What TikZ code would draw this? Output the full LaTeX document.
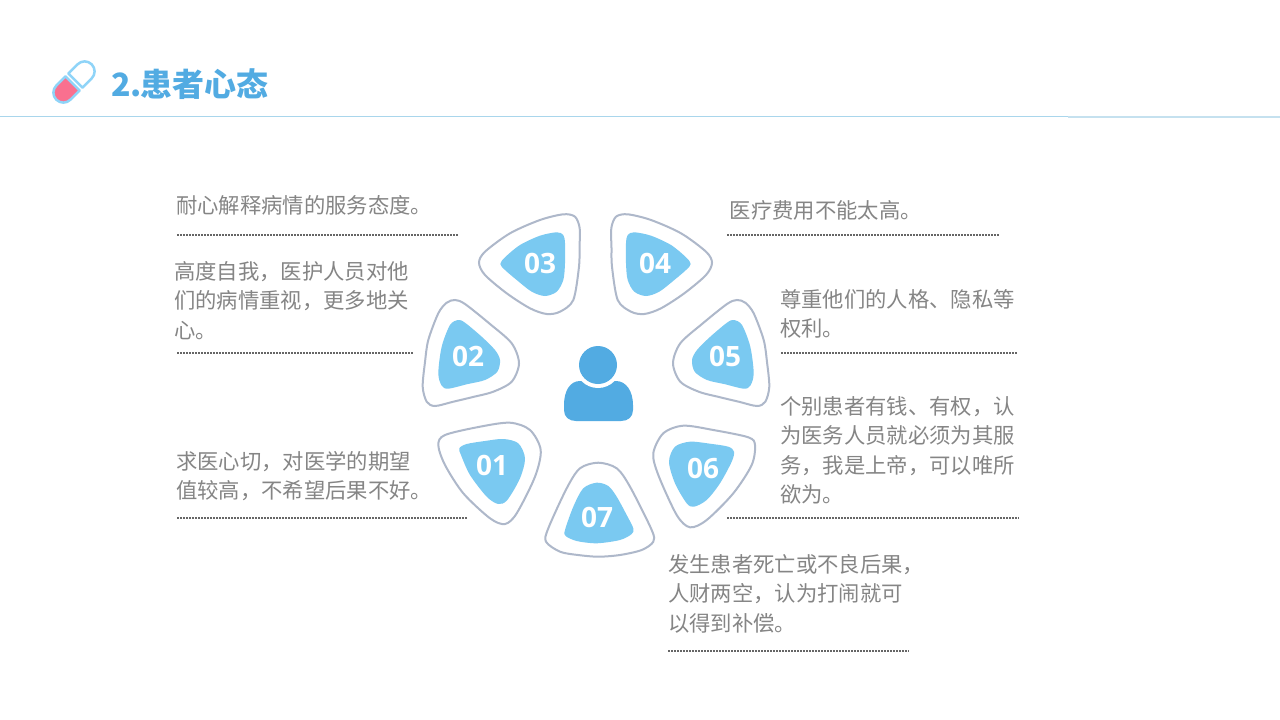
\documentclass[tikz,border=0pt]{standalone}
\usepackage{fontspec}
\setmainfont{Liberation Sans}
\newfontfamily\cjk{Noto Sans CJK SC}
\newfontfamily\numfont{Open Sans}
\usepackage{tikz}
\definecolor{petalblue}{HTML}{7AC9F1}
\definecolor{petalline}{HTML}{AEB8CA}
\definecolor{personblue}{HTML}{52ABE2}
\definecolor{bodytext}{HTML}{858585}
\definecolor{titleline}{HTML}{A9D6EC}
\definecolor{titlelinelight}{HTML}{C5E1EF}
\definecolor{pillblue}{HTML}{8FD4F8}
\definecolor{pillpink}{HTML}{F9708F}
\tikzset{
	bodylabel/.style={anchor=north west, align=left, inner sep=0pt, text=bodytext,
		font=\fontsize{21.33}{29.5}\selectfont\cjk},
	numlabel/.style={inner sep=0pt, text=white, font=\fontsize{28}{28}\selectfont\numfont\bfseries},
	dotrule/.style={line width=1.5pt, draw=black!60, dash pattern=on 1.5pt off 1.5pt},
	petalouter/.style={draw=petalline, line width=2pt, fill=white},
	petalinner/.style={fill=petalblue}
}
% contours used twice (03 and 04, 02 and 05)
\newcommand{\petalthreeouter}{plot[smooth cycle] coordinates {(563.3,214.3) (575,216.7) (579.7,228.3) (579.5,248) (579,266.7) (573.3,300) (560,311.7) (546.7,314) (530,308.3) (506.7,293.3) (485,275) (479,262.7) (485,251.7) (510,233.3) (540,220)}}
\newcommand{\petalthreeinner}{plot[smooth cycle] coordinates {(556.7,232.3) (563.3,235) (565,243.3) (565,263.3) (563.3,280) (556.7,291.7) (545,296) (531.7,291.7) (516.7,280) (505,270) (500.3,264) (505,257.3) (520,245) (540,235.7)}}
\newcommand{\petaltwoouter}{plot[smooth cycle] coordinates {(455,300) (465,304) (490,324) (511.7,343.3) (519,363.3) (511.7,381.7) (493.3,391.7) (473,397) (453.3,401.7) (435,406) (426.7,401.7) (422.7,386.7) (425,362) (428.3,340) (438.3,313.3) (446.7,302.7)}}
\newcommand{\petaltwoinner}{plot[smooth cycle] coordinates {(458.3,320) (465,322.7) (481.7,336.7) (495,350) (500,360) (497.3,371.7) (485,380) (466.7,384.3) (448.3,388.7) (441.7,385.7) (438.3,373.3) (441.7,346.7) (450,325)}}
\begin{document}
\begin{tikzpicture}[x=1pt,y=-1pt]

	\useasboundingbox (0,0) rectangle (1280,720);
	\fill[white] (0,0) rectangle (1280,720);

	% pill
	\begin{scope}[shift={(74,82)}, rotate=45, line join=round]
		\filldraw[fill=pillpink, draw=pillblue, line width=2.5pt] (-2,-10) -- (-15,-10) arc[start angle=270, end angle=90, radius=10] -- (-2,10) -- cycle;
		\draw[pillblue, line width=2.5pt] (2,-10) -- (15,-10) arc[start angle=270, end angle=450, radius=10] -- (2,10) -- cycle;
	\end{scope}

	% title
	\node[anchor=base west, inner sep=0pt, text=personblue, font=\fontsize{32}{32}\selectfont\cjk\bfseries] (title) at (111,96) {2.\kern-1.5pt 患者心态};
	\draw[titleline, line width=1.5pt] (0,116.7) -- (1068,116.7);
	\draw[titlelinelight, line width=2pt] (1068,117) -- (1280,117);

	% petal 01
	\draw[petalouter] plot[smooth cycle] coordinates {(438.3,445) (445,435) (480,426.7) (510,422.7) (530,430) (540.7,450) (535,476.7) (516.7,513.3) (505,524) (490,518.3) (463.3,493.3) (445,465)};
	\fill[petalinner] plot[smooth cycle] coordinates {(459.3,448.3) (466.7,444) (485,441) (503.3,439) (518.3,443.3) (525,458.3) (520,478.3) (507.3,500) (498.3,504) (486.7,496.7) (470,475) (461,455)};
	% petal 02
	\draw[petalouter] \petaltwoouter;
	\fill[petalinner] \petaltwoinner;
	% petal 03
	\draw[petalouter] \petalthreeouter;
	\fill[petalinner] \petalthreeinner;
	% petal 04
	\begin{scope}[xshift=1191pt, xscale=-1]
		\draw[petalouter] \petalthreeouter;
		\fill[petalinner] \petalthreeinner;
	\end{scope}
	% petal 05
	\begin{scope}[xshift=1192pt, xscale=-1]
		\draw[petalouter] \petaltwoouter;
		\fill[petalinner] \petaltwoinner;
	\end{scope}
	% petal 06
	\draw[petalouter] plot[smooth cycle] coordinates {(755,445) (748.3,437.3) (713.3,430) (683.3,425.7) (663.3,433.3) (653.3,453.3) (658.3,475) (676.7,515) (690,527.3) (706.7,520) (733.3,493.3) (751.7,465)};
	\fill[petalinner] plot[smooth cycle] coordinates {(728.3,446.7) (734,451.7) (731.7,461.7) (720,483.3) (706.7,500) (694,506.7) (686.7,503.3) (675,483.3) (669,461.7) (675,446.7) (690,441.7) (710,443.7)};
	% petal 07
	\draw[petalouter] plot[smooth cycle] coordinates {(598.3,462.7) (616.7,468.3) (630,486.7) (651.7,530) (653.3,541.7) (641.7,550) (620,555) (598.3,556.7) (578,555) (560,551.7) (546,541.7) (548.3,528.3) (566.7,488.3) (580,468.3)};
	\fill[petalinner] plot[smooth cycle] coordinates {(596.7,482.7) (608.3,486) (616.7,496.7) (626.7,515) (633.3,528.3) (631.7,534) (620,540) (596.7,543.3) (576.7,541) (565.7,536) (565,530) (573.3,506.7) (583.3,488.3)};

	% numbers
	\foreach \nname/\nx/\ny/\ntext in {
		one/492/465/01, two/468/356/02, three/540/263/03, four/655/263/04,
		five/725/356/05, six/703/468/06, seven/597/517/07}{
		\node[numlabel] (num\nname) at (\nx,\ny) {\ntext};
	}

	% person
	\fill[personblue] (564,410) -- (564,405) .. controls (564,391) and (570,381) .. (580,381) -- (616,381) .. controls (626,381) and (633,391) .. (633,405) -- (633,410) .. controls (633,417) and (628,421) .. (621,421) -- (576,421) .. controls (569,421) and (564,417) .. (564,410) -- cycle;
	\fill[white] (598,365) circle [radius=23];
	\fill[personblue] (598,365) circle [radius=19];

	% left texts
	\node[bodylabel] (patience) at (176,195) {耐心解释病情的服务态度。};
	\draw[dotrule] (177,235) -- (458,235);
	\node[bodylabel] (ego) at (174,261) {高度自我^^^^ff0c医护人员对他\\们的病情重视^^^^ff0c更多地关\\心。};
	\draw[dotrule] (177,353) -- (413,353);
	\node[bodylabel] (eager) at (176,451) {求医心切^^^^ff0c对医学的期望\\值较高^^^^ff0c不希望后果不好。};
	\draw[dotrule] (177,518) -- (468,518);

	% right texts
	\node[bodylabel] (cost) at (729.5,200.5) {医疗费用不能太高。};
	\draw[dotrule] (727,235) -- (1000,235);
	\node[bodylabel] (respect) at (780,289) {尊重他们的人格、隐私等\\权利。};
	\draw[dotrule] (781,353) -- (1018,353);
	\node[bodylabel] (power) at (780,396) {个别患者有钱、有权^^^^ff0c认\\为医务人员就必须为其服\\务^^^^ff0c我是上帝^^^^ff0c可以唯所\\欲为。};
	\draw[dotrule] (727,518) -- (1019,518);
	\node[bodylabel] (loss) at (668,554) {发生患者死亡或不良后果^^^^ff0c\\人财两空^^^^ff0c认为打闹就可\\以得到补偿。};
	\draw[dotrule] (668,651) -- (909,651);

\end{tikzpicture}
\end{document}
